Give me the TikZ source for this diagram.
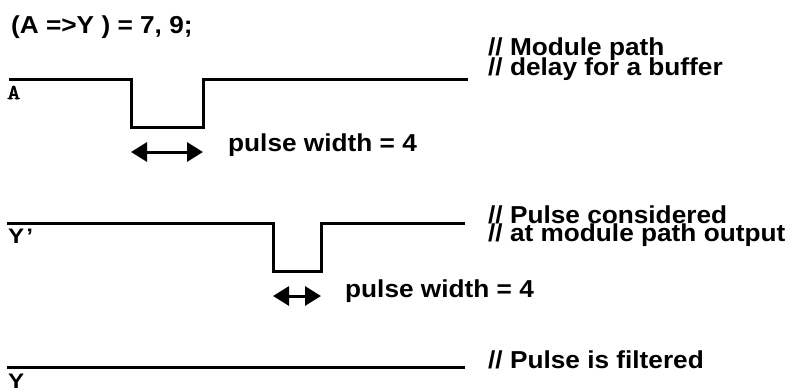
\documentclass[tikz,border=0pt]{standalone}
\usepackage{fontspec}
\setmainfont{Liberation Sans}[FakeStretch=1.07]
\newfontfamily\sigfnt{Liberation Sans}[FakeStretch=1.15]
\newfontfamily\afnt{Latin Modern Mono}[FakeBold=3, FakeStretch=1.2]
\usetikzlibrary{arrows.meta}
\tikzset{
  wave/.style={line width=3pt, line join=miter},
  txt/.style={inner sep=0pt, anchor=base west, font=\fontsize{24.5}{19}\selectfont\bfseries},
  sig/.style={inner sep=0pt, anchor=base west},
  dimarrow/.style={line width=3pt, {Triangle[length=16pt,width=19pt]}-{Triangle[length=16pt,width=19pt]}}
}
\begin{document}
\begin{tikzpicture}[x=1pt,y=-1pt]
\useasboundingbox (0,0) rectangle (792,391);
% title
\node[txt] (title) at (11,33) {(A =>Y ) = 7, 9;};
% waveform A
\draw[wave] (9,79) -- (131,79) -- (131,127) -- (203,127) -- (203,79) -- (468,79);
\node[sig, font=\fontsize{21}{21}\selectfont\afnt] (la) at (7,99) {A};
\coordinate (a1) at (131,152);
\coordinate (a2) at (203,152);
\draw[dimarrow] (a1) -- (a2);
\node[txt] (pwa) at (228,151) {pulse width = 4};
\node[txt] (c1) at (488,55) {// Module path};
\node[txt] (c2) at ([yshift=-20pt]c1.base west) {// delay for a buffer};
% waveform Y'
\draw[wave] (7,223) -- (273,223) -- (273,271) -- (321,271) -- (321,223) -- (465,223);
\node[sig, font=\fontsize{21}{21}\selectfont\bfseries\sigfnt] (lyp) at (8,243) {Y\kern2pt’};
\coordinate (b1) at (273,296);
\coordinate (b2) at (321,296);
\draw[dimarrow] (b1) -- (b2);
\node[txt] (pwb) at (345,297) {pulse width = 4};
\node[txt] (c3) at (488,223) {// Pulse considered};
\node[txt] (c4) at ([yshift=-18pt]c3.base west) {// at module path output};
% waveform Y
\draw[wave] (7,367) -- (465,367);
\node[sig, font=\fontsize{21}{21}\selectfont\bfseries\sigfnt] (ly) at (8,388) {Y};
\node[txt] (c5) at (488,368) {// Pulse is filtered};
\end{tikzpicture}
\end{document}
